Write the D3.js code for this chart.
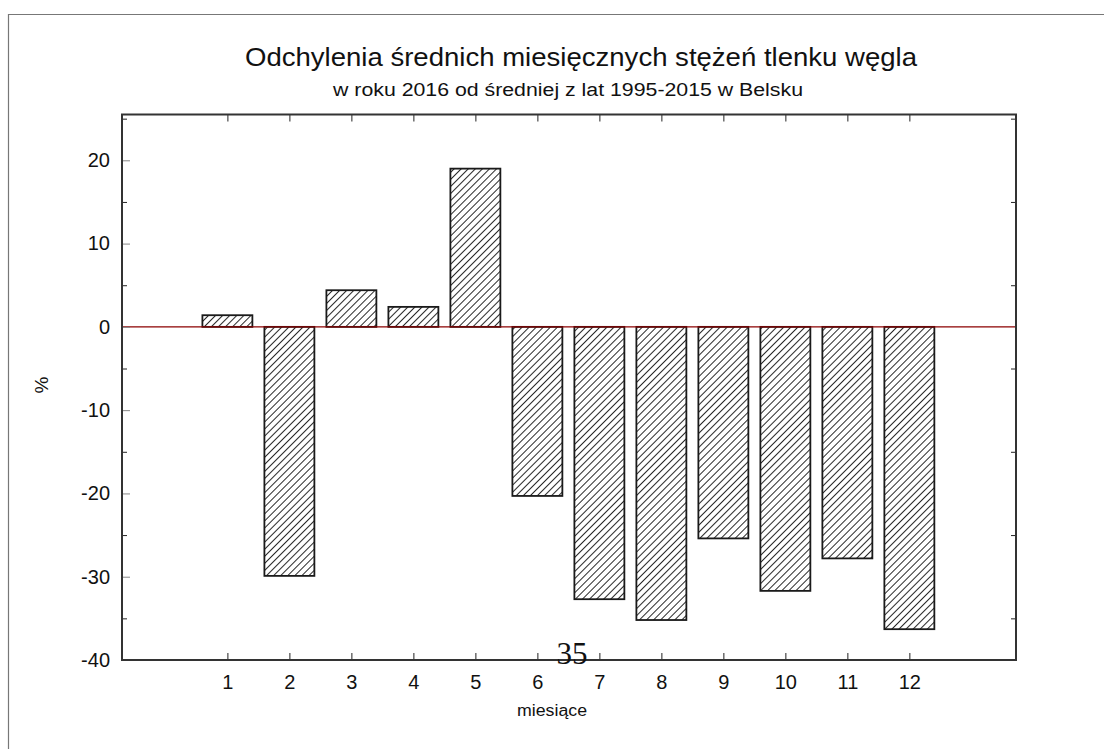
<!DOCTYPE html>
<html>
<head>
<meta charset="utf-8">
<script src="https://cdn.jsdelivr.net/npm/d3@7"></script>
<style>
  body { margin: 0; background: #fff; }
  text { font-family: Arial, "Liberation Sans", sans-serif; fill: #111; }
</style>
</head>
<body>
<svg id="chart"></svg>
<script>
// Dane: odchylenia w % dla kolejnych miesięcy
const months = [1, 2, 3, 4, 5, 6, 7, 8, 9, 10, 11, 12];
const deviations = [1.4, -29.9, 4.4, 2.4, 19.0, -20.3, -32.7, -35.2, -25.4, -31.7, -27.8, -36.3];
const yMajorTicks = [-40, -30, -20, -10, 0, 10, 20];
const yMinorTicks = [-35, -25, -15, -5, 5, 15, 25];

const width = 1113, height = 749;
const plotL = 122, plotR = 1016, plotT = 114.5, plotB = 660;

const svg = d3.select("#chart")
  .attr("width", width)
  .attr("height", height);

// hatch pattern for bars
const pat = svg.append("defs").append("pattern")
  .attr("id", "hatch")
  .attr("patternUnits", "userSpaceOnUse")
  .attr("width", 5)
  .attr("height", 5)
  .attr("patternTransform", "rotate(45)");
pat.append("rect").attr("width", 5).attr("height", 5).attr("fill", "#fff");
pat.append("line")
  .attr("x1", 0.5).attr("y1", 0).attr("x2", 0.5).attr("y2", 5)
  .attr("stroke", "#111").attr("stroke-width", 0.9);

// outer frame (page)
svg.append("path")
  .attr("d", `M8.5,${height} L8.5,14.5 L1104,14.5`)
  .attr("fill", "none")
  .attr("stroke", "#777")
  .attr("stroke-width", 1.2);

const x = d3.scaleLinear().domain([-0.7, 13.72]).range([plotL, plotR]);
const y = d3.scaleLinear().domain([-40, 25.5]).range([plotB, plotT]);
const barW = x(0.806) - x(0);

// titles
svg.append("text")
  .attr("x", 581).attr("y", 66)
  .attr("text-anchor", "middle")
  .attr("textLength", 672)
  .attr("lengthAdjust", "spacingAndGlyphs")
  .style("font-size", "26px")
  .text("Odchylenia średnich miesięcznych stężeń tlenku węgla");

svg.append("text")
  .attr("x", 568).attr("y", 96)
  .attr("text-anchor", "middle")
  .attr("textLength", 470)
  .attr("lengthAdjust", "spacingAndGlyphs")
  .style("font-size", "18px")
  .text("w roku 2016 od średniej z lat 1995-2015 w Belsku");

// bars
svg.append("g")
  .selectAll("rect")
  .data(months)
  .join("rect")
  .attr("x", (d, i) => x(d) - barW / 2)
  .attr("y", (d, i) => y(Math.max(0, deviations[i])))
  .attr("width", barW)
  .attr("height", (d, i) => Math.abs(y(deviations[i]) - y(0)))
  .attr("fill", "url(#hatch)")
  .attr("stroke", "#1a1a1a")
  .attr("stroke-width", 1.8);

// zero line
svg.append("line")
  .attr("x1", plotL).attr("x2", plotR)
  .attr("y1", y(0)).attr("y2", y(0))
  .attr("stroke", "#8b0000")
  .attr("stroke-width", 1.2);

// axes with inward ticks
const axisG = svg.append("g");
const plainNum = d => String(d);

axisG.append("g")
  .attr("transform", `translate(${plotL},0)`)
  .call(d3.axisRight(y).tickValues(yMajorTicks).tickSize(8).tickFormat(""))
  .call(g => g.select(".domain").remove())
  .call(g => g.selectAll("line").attr("stroke", "#888"));

axisG.append("g")
  .attr("transform", `translate(${plotL},0)`)
  .call(d3.axisRight(y).tickValues(yMinorTicks).tickSize(5).tickFormat(""))
  .call(g => g.select(".domain").remove())
  .call(g => g.selectAll("line").attr("stroke", "#222"));

axisG.append("g")
  .attr("transform", `translate(${plotR},0)`)
  .call(d3.axisLeft(y).tickValues(yMinorTicks).tickSize(5).tickFormat(""))
  .call(g => g.select(".domain").remove())
  .call(g => g.selectAll("line").attr("stroke", "#222"));

axisG.append("g")
  .attr("transform", `translate(${plotL - 12},0)`)
  .call(d3.axisLeft(y).tickValues(yMajorTicks).tickSize(0).tickFormat(plainNum))
  .call(g => g.select(".domain").remove())
  .call(g => g.selectAll("text")
    .attr("x", 0)
    .style("font-size", "20px")
    .style("font-family", "Arial, 'Liberation Sans', sans-serif"));

axisG.append("g")
  .attr("transform", `translate(0,${plotB})`)
  .call(d3.axisTop(x).tickValues(months).tickSize(7).tickFormat(""))
  .call(g => g.select(".domain").remove())
  .call(g => g.selectAll("line").attr("stroke", "#222"));

axisG.append("g")
  .attr("transform", `translate(0,${plotT})`)
  .call(d3.axisBottom(x).tickValues(months).tickSize(7).tickFormat(""))
  .call(g => g.select(".domain").remove())
  .call(g => g.selectAll("line").attr("stroke", "#222"));

axisG.append("g")
  .attr("transform", `translate(0,${plotB + 12})`)
  .call(d3.axisBottom(x).tickValues(months).tickSize(0).tickFormat(plainNum))
  .call(g => g.select(".domain").remove())
  .call(g => g.selectAll("text")
    .style("font-size", "20px")
    .style("font-family", "Arial, 'Liberation Sans', sans-serif"));

// plot box
svg.append("rect")
  .attr("x", plotL).attr("y", plotT)
  .attr("width", plotR - plotL).attr("height", plotB - plotT)
  .attr("fill", "none")
  .attr("stroke", "#333")
  .attr("stroke-width", 2);

// axis titles
svg.append("text")
  .attr("transform", "translate(48,385) rotate(-90)")
  .attr("text-anchor", "middle")
  .style("font-size", "19px")
  .text("%");

svg.append("text")
  .attr("x", 552).attr("y", 716)
  .attr("text-anchor", "middle")
  .attr("textLength", 70)
  .attr("lengthAdjust", "spacingAndGlyphs")
  .style("font-size", "16px")
  .text("miesiące");

// page number overlapping the axis
svg.append("text")
  .attr("x", 572).attr("y", 664)
  .attr("text-anchor", "middle")
  .style("font-family", "'Liberation Serif', 'DejaVu Serif', serif")
  .style("font-size", "31px")
  .text("35");
</script>
</body>
</html>
